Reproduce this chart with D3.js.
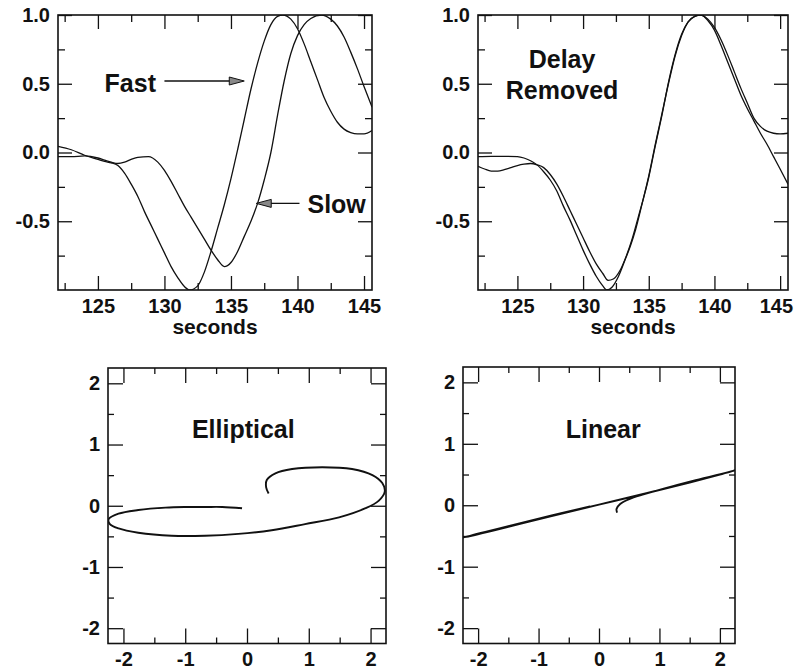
<!DOCTYPE html>
<html>
<head>
<meta charset="UTF-8">
<title>Fast / Slow</title>
<script src="https://d3js.org/d3.v7.min.js"></script>
<style>
  body { margin: 0; background: #fff; }
  svg { display: block; color: #111; }
  text { font-family: "Liberation Sans", Arial, Helvetica, sans-serif; font-weight: bold; fill: #111; }
</style>
</head>
<body>
<svg id="chart" width="794" height="669"></svg>
<script>
// 波形数据: [秒, 归一化振幅]
const fastWave = [
  [122, 0.045], [123, 0.02], [124, -0.02], [125, -0.05], [125.5, -0.065], [126, -0.075],
  [126.5, -0.095], [127, -0.15], [127.5, -0.23], [128, -0.32], [128.5, -0.43], [129, -0.53],
  [129.5, -0.63], [130, -0.73], [130.5, -0.83], [131, -0.91], [131.5, -0.975], [131.9, -1.0],
  [132.5, -0.97], [133, -0.87], [133.5, -0.72], [134, -0.55], [134.5, -0.38], [135, -0.19],
  [135.5, 0.02], [136, 0.24], [136.5, 0.46], [137, 0.65], [137.5, 0.81], [138, 0.93],
  [138.5, 0.99], [138.9, 1.0], [139.5, 0.97], [140, 0.9], [140.5, 0.79], [141, 0.66],
  [141.5, 0.53], [142, 0.4], [142.5, 0.3], [143, 0.22], [143.5, 0.17], [144, 0.145],
  [144.5, 0.135], [145, 0.135], [145.6, 0.16]
];
const slowWave = [
  [122, -0.03], [123, -0.03], [124, -0.025], [125, -0.04], [125.5, -0.055], [126, -0.07],
  [126.5, -0.08], [127, -0.07], [127.5, -0.05], [128, -0.035], [128.8, -0.03], [129.5, -0.07],
  [130, -0.13], [130.5, -0.21], [131, -0.3], [131.5, -0.39], [132, -0.47], [132.5, -0.55],
  [133, -0.63], [133.5, -0.71], [134, -0.78], [134.5, -0.83], [135, -0.8], [135.5, -0.72],
  [136, -0.61], [136.5, -0.5], [137, -0.37], [137.5, -0.2], [138, 0.0], [138.5, 0.27],
  [139, 0.52], [139.5, 0.72], [140, 0.85], [140.5, 0.93], [141, 0.975], [141.8, 1.0],
  [142.5, 0.97], [143, 0.92], [143.5, 0.84], [144, 0.73], [144.5, 0.61], [145, 0.48],
  [145.6, 0.33]
];
const alignedA = [
  [122, -0.03], [123, -0.028], [124, -0.028], [125, -0.03], [125.5, -0.04], [126, -0.06],
  [126.5, -0.09], [127, -0.14], [127.5, -0.2], [128, -0.28], [128.5, -0.39], [129, -0.49],
  [129.5, -0.6], [130, -0.71], [130.5, -0.81], [131, -0.9], [131.5, -0.97], [131.8, -1.0],
  [132.2, -0.98], [132.7, -0.9], [133.2, -0.78], [133.6, -0.68], [134, -0.56], [134.5, -0.37],
  [135, -0.18], [135.5, 0.05], [136, 0.27], [136.5, 0.51], [137, 0.71], [137.5, 0.86],
  [138, 0.95], [138.5, 0.99], [138.9, 1.0], [139.5, 0.97], [140, 0.91], [140.5, 0.82],
  [141, 0.71], [141.5, 0.59], [142, 0.47], [142.5, 0.36], [143, 0.25], [143.5, 0.19],
  [144, 0.155], [144.5, 0.14], [145, 0.135], [145.6, 0.14]
];
const alignedB = [
  [122, -0.1], [122.5, -0.12], [123, -0.135], [123.5, -0.135], [124, -0.125], [124.5, -0.11],
  [125, -0.095], [125.5, -0.085], [126, -0.08], [126.5, -0.09], [127, -0.11], [127.5, -0.16],
  [128, -0.23], [128.5, -0.32], [129, -0.42], [129.5, -0.52], [130, -0.62], [130.5, -0.72],
  [131, -0.81], [131.5, -0.88], [131.9, -0.93], [132.3, -0.92], [132.8, -0.86], [133.3, -0.75],
  [133.7, -0.64], [134.2, -0.47], [134.6, -0.33], [135, -0.17], [135.5, 0.06], [136, 0.28],
  [136.5, 0.5], [137, 0.7], [137.5, 0.85], [138, 0.95], [138.5, 0.99], [139, 1.0],
  [139.5, 0.96], [140, 0.89], [140.5, 0.78], [141, 0.66], [141.5, 0.54], [142, 0.42],
  [142.5, 0.32], [143, 0.23], [143.5, 0.14], [144, 0.06], [144.5, -0.03], [145, -0.12],
  [145.6, -0.23]
];
// 质点运动轨迹 [x, y]
const ellipticalPath = [
  [-0.08, -0.04], [-0.4, -0.02], [-0.68, -0.02], [-1.0, -0.02], [-1.32, -0.03], [-1.76, -0.07],
  [-2.08, -0.13], [-2.24, -0.22], [-2.22, -0.3], [-2.08, -0.37], [-1.76, -0.44], [-1.22, -0.49],
  [-0.68, -0.49], [-0.14, -0.46], [0.4, -0.4], [0.94, -0.3], [1.49, -0.19], [1.92, -0.04],
  [2.13, 0.08], [2.23, 0.23], [2.19, 0.37], [2.03, 0.5], [1.7, 0.6], [1.22, 0.63], [0.73, 0.6],
  [0.46, 0.53], [0.32, 0.42], [0.31, 0.3], [0.35, 0.2]
];
const linearPath = [
  [-0.15, -0.02], [-0.8, -0.17], [-1.5, -0.34], [-2.28, -0.53], [-2.2, -0.515], [-1.5, -0.35],
  [-0.8, -0.18], [0, 0.01], [0.8, 0.2], [1.5, 0.37], [2.0, 0.5], [2.27, 0.575], [2.22, 0.56],
  [1.6, 0.41], [1.1, 0.28], [0.75, 0.18], [0.5, 0.1], [0.35, 0.02], [0.29, -0.06], [0.3, -0.12]
];

const timeTicks = [125, 130, 135, 140, 145];
const timeMinor = [122.5, 127.5, 132.5, 137.5, 142.5];
const ampTicks = [-0.5, 0, 0.5, 1];
const ampMinor = [-0.75, -0.25, 0.25, 0.75];
const pmTicks = [-2, -1, 0, 1, 2];
const pmMinor = [-1.5, -0.5, 0.5, 1.5];

const svg = d3.select("#chart");
const ink = "#111";
let clipId = 0;

function axis(g, fn, scale, tr, values, size, fmt, pad) {
  const a = fn(scale).tickValues(values).tickSize(-size).tickPadding(pad || 0)
    .tickFormat(fmt || (() => ""));
  const s = g.append("g").attr("transform", tr).call(a);
  s.select(".domain").remove();
  s.selectAll("line").attr("stroke", ink).attr("stroke-width", 1.3);
  s.selectAll("text").style("font-size", "20px");
  return s;
}

function panel(b, xDom, yDom, t) {
  const x = d3.scaleLinear().domain(xDom).range([b.x0, b.x1]);
  const y = d3.scaleLinear().domain(yDom).range([b.y1, b.y0]);
  const g = svg.append("g");

  // 四边刻度朝内
  axis(g, d3.axisBottom, x, `translate(0,${b.y1})`, t.xMajor, t.big, t.fmtX, t.padX);
  axis(g, d3.axisBottom, x, `translate(0,${b.y1})`, t.xMinor, t.small);
  axis(g, d3.axisTop, x, `translate(0,${b.y0})`, t.xMajor, t.big);
  axis(g, d3.axisTop, x, `translate(0,${b.y0})`, t.xMinor, t.small);
  axis(g, d3.axisLeft, y, `translate(${b.x0},0)`, t.yMajor, t.big, t.fmtY, t.padY);
  axis(g, d3.axisLeft, y, `translate(${b.x0},0)`, t.yMinor, t.small);
  axis(g, d3.axisRight, y, `translate(${b.x1},0)`, t.yMajor, t.big);
  axis(g, d3.axisRight, y, `translate(${b.x1},0)`, t.yMinor, t.small);

  g.append("rect")
    .attr("x", b.x0).attr("y", b.y0)
    .attr("width", b.x1 - b.x0).attr("height", b.y1 - b.y0)
    .attr("fill", "none").attr("stroke", ink).attr("stroke-width", 1.6);

  const id = "clip" + (clipId++);
  svg.append("clipPath").attr("id", id).append("rect")
    .attr("x", b.x0).attr("y", b.y0)
    .attr("width", b.x1 - b.x0).attr("height", b.y1 - b.y0);
  const plot = g.append("g").attr("clip-path", `url(#${id})`);
  return { g, plot, x, y };
}

const timeOpts = {
  xMajor: timeTicks, xMinor: timeMinor, yMajor: ampTicks, yMinor: ampMinor,
  big: 14, small: 7, fmtX: d => String(d), fmtY: d => d.toFixed(1), padX: 9, padY: 8
};
const pmOpts = {
  xMajor: pmTicks, xMinor: pmMinor, yMajor: pmTicks, yMinor: pmMinor,
  big: 15, small: 6, fmtX: d => String(d), fmtY: d => String(d), padX: 8.5, padY: 8
};

function wave(p, data) {
  p.plot.append("path").datum(data)
    .attr("fill", "none").attr("stroke", ink).attr("stroke-width", 1.3)
    .attr("d", d3.line().x(d => p.x(d[0])).y(d => p.y(d[1])).curve(d3.curveMonotoneX));
}
function orbit(p, data) {
  p.plot.append("path").datum(data)
    .attr("fill", "none").attr("stroke", ink).attr("stroke-width", 1.9)
    .attr("stroke-linejoin", "round")
    .attr("d", d3.line().x(d => p.x(d[0])).y(d => p.y(d[1])).curve(d3.curveCatmullRom.alpha(0.5)));
}
function label(p, tx, ty, str, anchor) {
  p.g.append("text").attr("x", p.x(tx)).attr("y", p.y(ty))
    .attr("text-anchor", anchor || "start").style("font-size", "25px").text(str);
}
function arrow(p, t0, t1, v) {
  const x0 = p.x(t0), x1 = p.x(t1), yy = p.y(v);
  const dir = Math.sign(x1 - x0);
  p.g.append("line").attr("x1", x0).attr("y1", yy).attr("x2", x1 - dir * 12).attr("y2", yy)
    .attr("stroke", ink).attr("stroke-width", 1.3);
  p.g.append("path")
    .attr("d", `M${x1},${yy} L${x1 - dir * 15},${yy - 4} L${x1 - dir * 15},${yy + 4} Z`)
    .attr("fill", "#888").attr("stroke", ink).attr("stroke-width", 1);
}

// 左上: 快/慢
const p1 = panel({ x0: 58, x1: 372, y0: 15, y1: 290 }, [122, 145.6], [-1, 1], timeOpts);
wave(p1, fastWave);
wave(p1, slowWave);
label(p1, 125.5, 0.44, "Fast");
arrow(p1, 130.0, 136.0, 0.52);
label(p1, 140.75, -0.44, "Slow");
arrow(p1, 140.15, 136.9, -0.37);
p1.g.append("text").attr("x", (58 + 372) / 2).attr("y", 334)
  .attr("text-anchor", "middle").style("font-size", "21px").text("seconds");

// 右上: 去除延迟
const p2 = panel({ x0: 478, x1: 788, y0: 15, y1: 290 }, [122, 145.6], [-1, 1], timeOpts);
wave(p2, alignedA);
wave(p2, alignedB);
label(p2, 128.4, 0.615, "Delay", "middle");
label(p2, 128.4, 0.39, "Removed", "middle");
p2.g.append("text").attr("x", (478 + 788) / 2).attr("y", 334)
  .attr("text-anchor", "middle").style("font-size", "21px").text("seconds");

// 左下: 椭圆
const p3 = panel({ x0: 108, x1: 386, y0: 368, y1: 643.5 }, [-2.25, 2.25], [-2.25, 2.25], pmOpts);
orbit(p3, ellipticalPath);
label(p3, -0.06, 1.1, "Elliptical", "middle");

// 右下: 线性
const p4 = panel({ x0: 463, x1: 735, y0: 367, y1: 643.5 }, [-2.25, 2.25], [-2.25, 2.25], pmOpts);
orbit(p4, linearPath);
label(p4, 0.07, 1.09, "Linear", "middle");

// 贴边的刻度文字往里收一点
svg.selectAll(".tick text").each(function () {
  const bb = this.getBBox();
  const m = this.getCTM();
  const right = m.e + bb.x + bb.width;
  if (right > 793) {
    d3.select(this).attr("x", (+d3.select(this).attr("x") || 0) - (right - 793));
  }
});
</script>
</body>
</html>
